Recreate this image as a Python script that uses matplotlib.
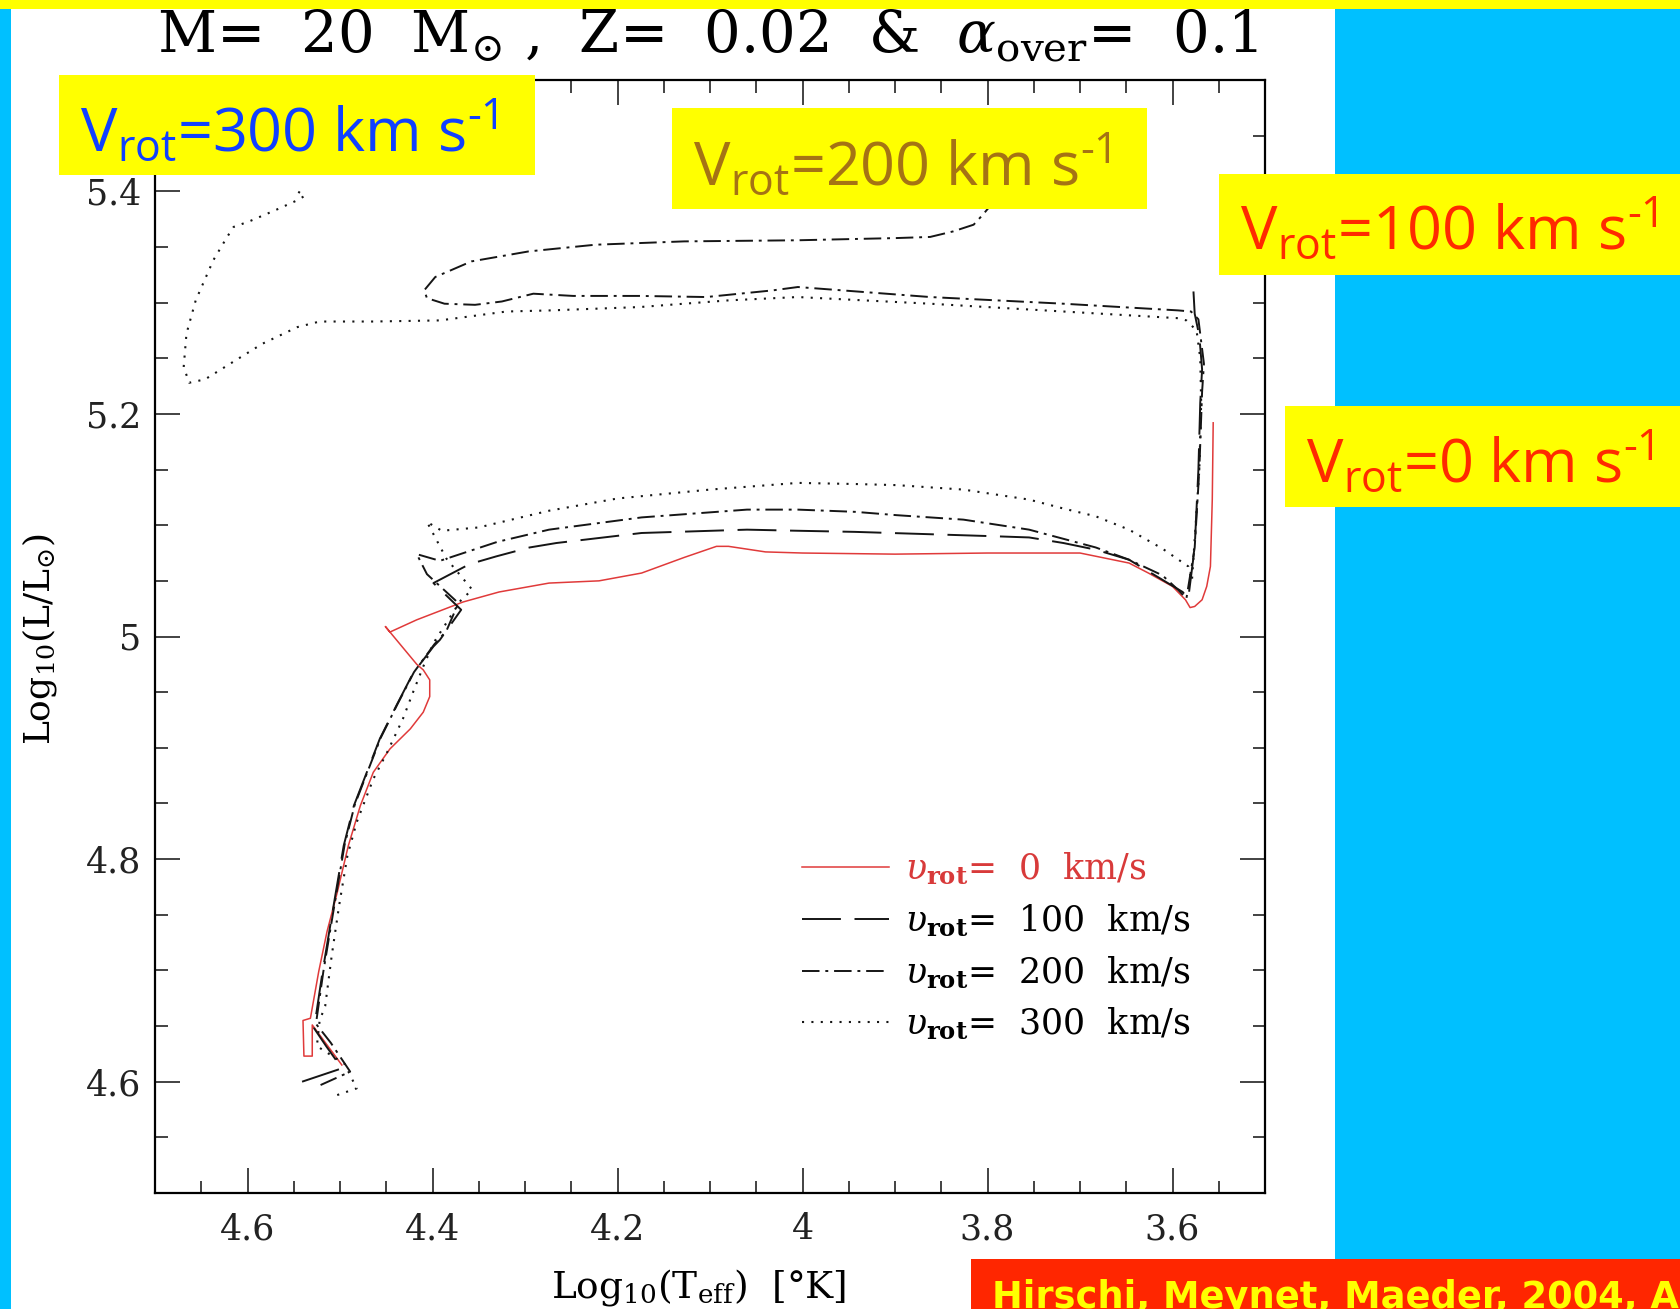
import matplotlib
matplotlib.use('Agg')
import matplotlib.pyplot as plt
from matplotlib.patches import Rectangle
from matplotlib.ticker import MultipleLocator

plt.rcParams['mathtext.fontset'] = 'dejavuserif'
plt.rcParams['mathtext.rm'] = 'Open Sans'
plt.rcParams['mathtext.it'] = 'Open Sans:italic'
plt.rcParams['mathtext.bf'] = 'Open Sans:bold'

# v_rot = 0 km/s (red, solid)
logt_0 = [4.498, 4.530, 4.530, 4.539, 4.540, 4.532, 4.523, 4.514, 4.503, 4.491, 4.478, 4.464,
          4.446, 4.424, 4.410, 4.403, 4.403, 4.410, 4.417, 4.439, 4.451, 4.446, 4.417, 4.367,
          4.328, 4.274, 4.220, 4.174, 4.128, 4.093, 4.080, 4.040, 4.000, 3.900, 3.800, 3.700,
          3.647, 3.626, 3.600, 3.586, 3.581, 3.576, 3.568, 3.563, 3.559, 3.557, 3.556]
logl_0 = [4.615, 4.651, 4.623, 4.623, 4.655, 4.657, 4.699, 4.735, 4.770, 4.812, 4.848, 4.878,
          4.899, 4.917, 4.932, 4.946, 4.961, 4.970, 4.975, 4.997, 5.009, 5.004, 5.015, 5.031,
          5.040, 5.048, 5.050, 5.057, 5.071, 5.081, 5.081, 5.076, 5.075, 5.074, 5.075, 5.075,
          5.066, 5.057, 5.045, 5.033, 5.026, 5.027, 5.033, 5.045, 5.063, 5.123, 5.192]

# v_rot = 100 km/s (dashed)
logt_100 = [4.541, 4.498, 4.515, 4.528, 4.519, 4.510, 4.496, 4.485, 4.471, 4.457, 4.439, 4.421,
            4.399, 4.392, 4.369, 4.399, 4.360, 4.331, 4.295, 4.266, 4.174, 4.060, 4.005, 3.943,
            3.828, 3.790, 3.755, 3.718, 3.683, 3.647, 3.611, 3.589, 3.583, 3.576, 3.572, 3.570,
            3.568, 3.571, 3.576, 3.578]
logl_100 = [4.600, 4.612, 4.632, 4.648, 4.698, 4.743, 4.812, 4.848, 4.878, 4.908, 4.938, 4.967,
            4.991, 4.997, 5.024, 5.048, 5.065, 5.072, 5.080, 5.084, 5.093, 5.096, 5.095, 5.094,
            5.091, 5.090, 5.089, 5.084, 5.078, 5.069, 5.051, 5.040, 5.034, 5.080, 5.150, 5.210,
            5.240, 5.270, 5.290, 5.320]

# v_rot = 200 km/s (dash-dot)
logt_200 = [4.521, 4.489, 4.510, 4.526, 4.518, 4.509, 4.495, 4.484, 4.470, 4.456, 4.438, 4.420,
            4.398, 4.385, 4.372, 4.406, 4.417, 4.392, 4.330, 4.274, 4.174, 4.060, 4.005, 3.943,
            3.898, 3.826, 3.755, 3.683, 3.647, 3.611, 3.594, 3.585, 3.576, 3.571, 3.568, 3.566,
            3.572, 3.580, 3.594, 3.718, 3.862, 4.005, 4.032, 4.104, 4.176, 4.248, 4.291, 4.325,
            4.354, 4.387, 4.406, 4.409, 4.397, 4.358, 4.296, 4.224, 4.128, 4.005, 3.952, 3.898,
            3.862, 3.837, 3.815, 3.805, 3.799, 3.795]
logl_200 = [4.597, 4.609, 4.635, 4.652, 4.699, 4.744, 4.813, 4.849, 4.879, 4.909, 4.939, 4.968,
            4.993, 5.005, 5.030, 5.056, 5.074, 5.068, 5.085, 5.096, 5.107, 5.114, 5.114, 5.112,
            5.109, 5.105, 5.096, 5.080, 5.069, 5.055, 5.042, 5.034, 5.080, 5.150, 5.220, 5.245,
            5.285, 5.292, 5.293, 5.299, 5.305, 5.314, 5.311, 5.305, 5.306, 5.306, 5.308, 5.301,
            5.298, 5.299, 5.304, 5.311, 5.323, 5.337, 5.346, 5.352, 5.355, 5.356, 5.357, 5.358,
            5.359, 5.364, 5.370, 5.379, 5.385, 5.400]

# v_rot = 300 km/s (dotted)
logt_300 = [4.503, 4.482, 4.495, 4.525, 4.522, 4.516, 4.509, 4.501, 4.492, 4.482, 4.464, 4.449,
            4.432, 4.421, 4.410, 4.399, 4.369, 4.357, 4.385, 4.406, 4.390, 4.350, 4.274, 4.200,
            4.100, 4.005, 3.943, 3.898, 3.826, 3.755, 3.718, 3.683, 3.647, 3.611, 3.583, 3.579,
            3.575, 3.571, 3.569, 3.570, 3.574, 3.585, 3.594, 3.718, 3.862, 4.005, 4.080, 4.176,
            4.272, 4.320, 4.392, 4.464, 4.522, 4.546, 4.584, 4.617, 4.646, 4.663, 4.669, 4.666,
            4.656, 4.637, 4.622, 4.615, 4.598, 4.570, 4.546, 4.538, 4.546]
logl_300 = [4.588, 4.594, 4.616, 4.632, 4.655, 4.668, 4.713, 4.758, 4.803, 4.833, 4.872, 4.896,
            4.926, 4.950, 4.973, 4.994, 5.033, 5.042, 5.070, 5.103, 5.095, 5.098, 5.113, 5.124,
            5.132, 5.138, 5.137, 5.136, 5.132, 5.123, 5.115, 5.108, 5.096, 5.079, 5.063, 5.050,
            5.100, 5.150, 5.210, 5.250, 5.275, 5.284, 5.286, 5.292, 5.299, 5.305, 5.302, 5.296,
            5.293, 5.292, 5.284, 5.283, 5.283, 5.278, 5.263, 5.246, 5.231, 5.228, 5.242, 5.272,
            5.302, 5.338, 5.359, 5.368, 5.373, 5.383, 5.392, 5.396, 5.400]

x_ticks = [4.6, 4.4, 4.2, 4.0, 3.8, 3.6]
x_labels = ['4.6', '4.4', '4.2', '4', '3.8', '3.6']
y_ticks = [4.6, 4.8, 5.0, 5.2, 5.4]
y_labels = ['4.6', '4.8', '5', '5.2', '5.4']

legend_labels = [r'$\upsilon_{\mathbf{rot}}$=  0  km/s', r'$\upsilon_{\mathbf{rot}}$=  100  km/s',
                 r'$\upsilon_{\mathbf{rot}}$=  200  km/s', r'$\upsilon_{\mathbf{rot}}$=  300  km/s']

W, H = 1681, 1309


def fx(px):
    return px / W


def fy(py):
    return 1 - py / H


def box(x0, y0, x1, y1, color, z=5):
    fig.add_artist(Rectangle((fx(x0), fy(y1)), fx(x1) - fx(x0), fy(y0) - fy(y1),
                             transform=fig.transFigure, facecolor=color, edgecolor='none', zorder=z))


fig = plt.figure(figsize=(W / 100, H / 100), dpi=100, facecolor='white')

# backgrounds
cyan = '#00C0FF'
yellow = '#FFFF00'
box(0, 0, 11, H, cyan, z=1)
box(1335, 0, W, H, cyan, z=1)
box(0, 0, W, 9, yellow, z=1)

ax = fig.add_axes([fx(155), fy(1193), fx(1265) - fx(155), fy(80) - fy(1193)])
ax.set_zorder(2)

black = '#151515'
ax.plot(logt_0, logl_0, color='#E03A3A', lw=1.1, label=legend_labels[0])
ax.plot(logt_100, logl_100, color=black, lw=1.4, linestyle=(0, (20, 7)), label=legend_labels[1])
ax.plot(logt_200, logl_200, color=black, lw=1.4, linestyle=(0, (9, 3, 1.5, 3)), label=legend_labels[2])
ax.plot(logt_300, logl_300, color=black, lw=1.5, linestyle=(0, (1, 3.5)), label=legend_labels[3])

ax.set_xlim(4.7, 3.5)
ax.set_ylim(4.5, 5.5)
ax.set_xticks(x_ticks, x_labels)
ax.set_yticks(y_ticks, y_labels)
ax.xaxis.set_minor_locator(MultipleLocator(0.05))
ax.yaxis.set_minor_locator(MultipleLocator(0.05))
ax.tick_params(which='both', direction='in', top=True, right=True, width=1.2, colors='#222222')
ax.tick_params(which='major', length=18)
ax.tick_params(which='minor', length=9)
ax.tick_params(axis='x', which='major', pad=14)
ax.tick_params(axis='y', which='major', pad=10)
for lab in ax.get_xticklabels() + ax.get_yticklabels():
    lab.set_fontfamily('DejaVu Serif')
    lab.set_fontsize(25)
for s in ax.spines.values():
    s.set_linewidth(1.6)

leg = ax.legend(loc='upper left', bbox_to_anchor=(0.583, 0.307), frameon=False,
                prop={'family': 'DejaVu Serif', 'size': 25}, handlelength=2.5, handletextpad=0.45,
                labelspacing=0.45, borderpad=0, borderaxespad=0,
                labelcolor=['#D83A3A', 'k', 'k', 'k'])

# titles and axis labels
fig.text(fx(707), fy(53), r'M=  20  M$_{\odot}$ ,  Z=  0.02  &  $\alpha_{\rm over}$=  0.1',
         ha='center', va='baseline', fontsize=41.5, family='DejaVu Serif')
fig.text(fx(699), fy(1298), r'Log$_{10}$(T$_{\rm eff}$)  [°K]', ha='center', va='baseline',
         fontsize=27, family='DejaVu Serif')
fig.text(fx(40), fy(639), r'Log$_{10}$(L/L$_{\odot}$)', ha='center', va='center', rotation=90,
         fontsize=26, family='DejaVu Serif')

# annotation boxes
box(59, 75, 535, 175, yellow, z=5)
box(672, 108, 1147, 209, yellow, z=5)
box(1219, 174, W, 275, yellow, z=5)
box(1285, 406, W, 507, yellow, z=5)
box(971, 1259, W, H, '#FF2600', z=5)

notes = [(80, 152, '300', '#1040FF'), (693, 186, '200', '#A57314'),
         (1240, 250, '100', '#FF2A00'), (1306, 483, '0', '#FF2A00')]
for px, py, v, c in notes:
    fig.text(fx(px), fy(py), r'V$_{\mathrm{rot}}$=' + v + r' km s$^{\text{-}\mathrm{1}}$', color=c,
             fontsize=44, family='Open Sans', math_fontfamily='custom', va='baseline', zorder=6)

fig.text(fx(992), fy(1308), 'Hirschi, Meynet, Maeder, 2004, A&A', color=yellow, fontsize=26.5,
         family='DejaVu Sans', fontweight='bold', va='baseline', zorder=6)

fig.savefig('out.png', dpi=100, facecolor='white')
